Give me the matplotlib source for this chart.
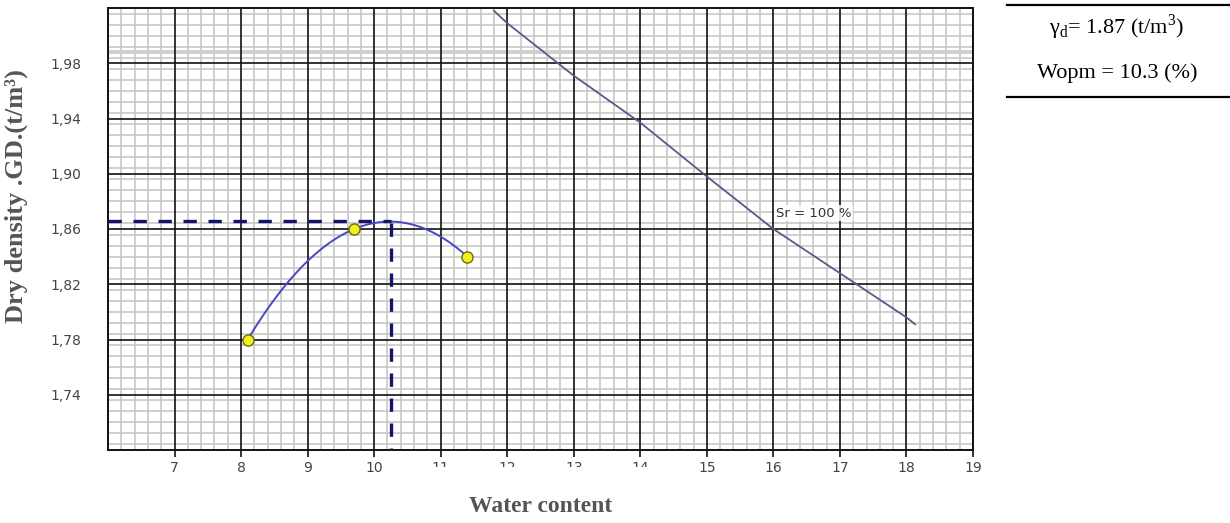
import matplotlib
matplotlib.use('Agg')
import matplotlib.pyplot as plt
import numpy as np
from matplotlib.ticker import MultipleLocator
from matplotlib.patches import Rectangle
from matplotlib.lines import Line2D

# proctor test points
water = [8.1, 9.7, 11.4]
dry_density = [1.78, 1.86, 1.84]

# optimum (peak of the compaction curve)
w_opt = 10.26
gd_opt = 1.866

# saturation line Sr = 100 %
sr_water = [11.8, 12.0, 13.0, 14.0, 15.0, 16.0, 17.0, 18.0, 18.13]
sr_density = [2.018, 2.009, 1.971, 1.937, 1.898, 1.860, 1.828, 1.796, 1.791]

x_ticks = [7, 8, 9, 10, 11, 12, 13, 14, 15, 16, 17, 18, 19]
y_ticks = [1.74, 1.78, 1.82, 1.86, 1.90, 1.94, 1.98]

plt.rcParams['mathtext.fontset'] = 'custom'
plt.rcParams['mathtext.rm'] = 'Liberation Serif'

W, H = 1230, 523
fig = plt.figure(figsize=(W / 100, H / 100), dpi=100)
ax = fig.add_axes([108 / W, 1 - 450 / H, (973 - 108) / W, (450 - 8) / H])

ax.set_xlim(6, 19)
ax.set_ylim(1.70, 2.02)

ax.set_xticks(x_ticks)
ax.set_xticklabels([str(t) for t in x_ticks])
ax.set_yticks(y_ticks)
ax.set_yticklabels([('%.2f' % t).replace('.', ',') for t in y_ticks])
ax.xaxis.set_minor_locator(MultipleLocator(0.2))
ax.yaxis.set_minor_locator(MultipleLocator(0.008))

# graph paper: light minor grid, black major grid on top of it
ax.grid(which='minor', color='#c4c4c4', lw=1.1)
ax.set_axisbelow(True)
ax.axhline(1.988, color='#cfcfcf', lw=2.8, zorder=0.8)
for t in x_ticks:
    ax.axvline(t, color='#111111', lw=1.2, zorder=1)
for t in y_ticks:
    ax.axhline(t, color='#111111', lw=1.2, zorder=1)

ax.tick_params(axis='x', which='major', length=5, width=1.2, color='#111111',
               pad=3, labelsize=10, labelcolor='#444444')
ax.tick_params(axis='y', which='major', length=0, pad=19, labelsize=10,
               labelcolor='#444444')
ax.tick_params(which='minor', length=0)
for s in ax.spines.values():
    s.set_color('#111111')
    s.set_linewidth(1.4)

# compaction curve through the three points
coef = np.polyfit(water, dry_density, 2)
wc = np.linspace(min(water), max(water), 200)
ax.plot(wc, np.polyval(coef, wc), color='#4848c0', lw=1.4, zorder=4)
ax.plot(water, dry_density, 'o', ms=8, mfc='#f4f020', mec='#6b6b10', mew=1.0,
        zorder=6)

# optimum guide lines
ax.plot([6, w_opt], [gd_opt, gd_opt], color='#14146a', lw=2.4,
        dashes=(4, 3.5), zorder=5)
ax.plot([w_opt, w_opt], [gd_opt - 0.002, 1.70], color='#14146a', lw=2.4,
        dashes=(4, 3.5), zorder=5)

# saturation line
ax.plot(sr_water, sr_density, color='#5a5a88', lw=1.3, zorder=4, clip_on=False)
ax.text(16.6, 1.8713, 'Sr = 100 %', fontsize=9.5, color='#333333',
        ha='center', va='center', zorder=7,
        bbox=dict(facecolor='white', edgecolor='none', pad=1.0, alpha=0.85))

# white box under the x axis title
fig.patches.append(Rectangle((428 / W, 0), (685 - 428) / W, 1 - 467 / H,
                             transform=fig.transFigure, facecolor='white',
                             edgecolor='none', zorder=10))

fig.text(541 / W, 1 - 507 / H, 'Water content', family='Liberation Serif',
         fontweight='bold', fontsize=17, color='#555555', ha='center',
         va='center', zorder=11)
fig.text(16 / W, 1 - 196 / H, 'Dry density .GD.(t/m³)', family='Liberation Serif',
         fontweight='bold', fontsize=19, color='#555555', ha='center',
         va='center', rotation=90)

# results box
fig.lines.append(Line2D([1007 / W, 1], [1 - 5 / H, 1 - 5 / H],
                        transform=fig.transFigure, color='black', lw=1.6))
fig.lines.append(Line2D([1007 / W, 1], [1 - 97 / H, 1 - 97 / H],
                        transform=fig.transFigure, color='black', lw=1.6))
fig.text(1117 / W, 1 - 27 / H,
         'γ$_\\mathregular{d}$= %.2f (t/m$^\\mathregular{3}$)' % gd_opt,
         family='Liberation Serif', fontsize=16, color='black',
         ha='center', va='center')
fig.text(1117 / W, 1 - 73 / H, 'Wopm = %.1f (%%)' % w_opt,
         family='Liberation Serif', fontsize=16, color='black',
         ha='center', va='center')

fig.savefig('out.png', dpi=100)
